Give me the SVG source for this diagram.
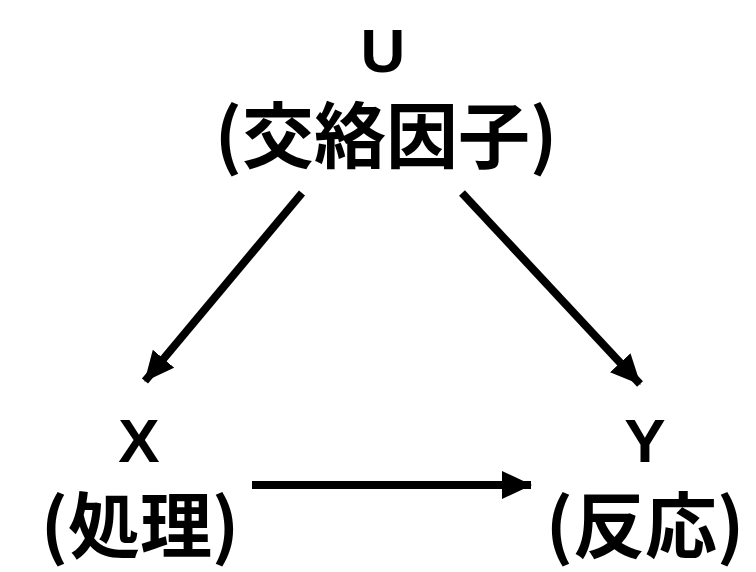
<svg xmlns="http://www.w3.org/2000/svg" width="756" height="572" viewBox="0 0 756 572">
<style>
.lbl{fill:#000;text-anchor:middle}
.lat{font-family:"Liberation Sans",Arial,sans-serif;font-weight:bold;font-size:62px}
.cjk{font-family:"Noto Sans CJK JP","Noto Sans CJK SC",sans-serif;font-weight:bold;font-size:72px}
.edge{stroke:#000;stroke-width:8;fill:none}
</style>
<defs>
<marker id="ah" markerUnits="userSpaceOnUse" markerWidth="30" markerHeight="28" viewBox="0 0 30 28" refX="29" refY="14" orient="auto">
<path d="M0,0 L30,14 L0,28 Z" fill="#000"/>
</marker>
</defs>
<rect width="756" height="572" fill="#fff"/>
<g id="connectors">
<line class="edge" x1="302" y1="193" x2="145" y2="381" marker-end="url(#ah)"/>
<line class="edge" x1="462" y1="193" x2="640" y2="384" marker-end="url(#ah)"/>
<line class="edge" x1="252" y1="485" x2="531" y2="485" marker-end="url(#ah)"/>
</g>
<g id="U">
<text class="lbl"><tspan class="lat" x="383" y="72">U</tspan><tspan class="cjk" x="386" y="162">(交絡因子)</tspan></text>
</g>
<g id="X">
<text class="lbl"><tspan class="lat" x="139" y="462">X</tspan><tspan class="cjk" x="140" y="552">(処理)</tspan></text>
</g>
<g id="Y">
<text class="lbl"><tspan class="lat" x="645" y="462">Y</tspan><tspan class="cjk" x="645" y="552">(反応)</tspan></text>
</g>
</svg>
